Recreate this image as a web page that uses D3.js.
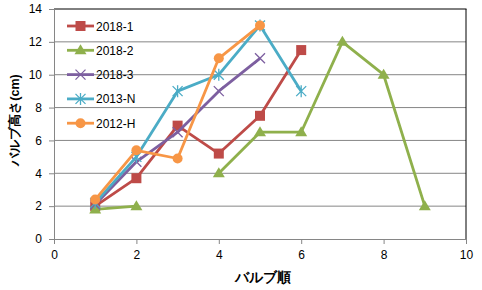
<!DOCTYPE html>
<html><head><meta charset="utf-8">
<script src="https://cdn.jsdelivr.net/npm/d3@7"></script>
<style>body{margin:0;background:#fff}svg{display:block}text{font-family:"Liberation Sans","DejaVu Sans",sans-serif}</style>
</head><body><svg id="c" width="482" height="290"></svg>
<script>
const seriesNames = ["2018-1","2018-2","2018-3","2013-N","2012-H"];
const xValues = [1,2,3,4,5,6,7,8,9];
const s2018_1 = [2.0,3.7,6.9,5.2,7.5,11.5,null,null,null];
const s2018_2 = [1.8,2.0,null,4.0,6.5,6.5,12.0,10.0,2.0];
const s2018_3 = [2.1,4.7,6.5,9.0,11.0,null,null,null,null];
const s2013_N = [2.2,5.0,9.0,10.0,13.0,9.0,null,null,null];
const s2012_H = [2.4,5.4,4.9,11.0,13.0,null,null,null,null];
const xTicks = [0,2,4,6,8,10];
const yTicks = [0,2,4,6,8,10,12,14];
const colors = ["#BE4B48","#8FB04C","#7D5FA0","#4BACC6","#F79646"];
const markers = ["square","triangle","x","star","circle"];
const allSeries = [s2018_1,s2018_2,s2018_3,s2013_N,s2012_H];

const svg = d3.select("#c");
const L=54, R=466, T=9, B=239;
const x = d3.scaleLinear().domain([0,10]).range([L,R]);
const y = d3.scaleLinear().domain([0,14]).range([B,T]);

svg.append("g").selectAll("line").data(yTicks.filter(d=>d>0&&d<14)).join("line")
  .attr("x1",L).attr("x2",R).attr("y1",d=>y(d)).attr("y2",d=>y(d))
  .attr("stroke","#868686").attr("stroke-width",1);
svg.append("line").attr("x1",L).attr("x2",R+0.5).attr("y1",T).attr("y2",T).attr("stroke","#000");
svg.append("line").attr("x1",R).attr("x2",R).attr("y1",T).attr("y2",B).attr("stroke","#000");

const xa = svg.append("g").attr("transform",`translate(0,${B})`)
  .call(d3.axisBottom(x).tickValues(xTicks).tickSize(5).tickPadding(6));
const ya = svg.append("g").attr("transform",`translate(${L},0)`)
  .call(d3.axisLeft(y).tickValues(yTicks).tickSize(5).tickPadding(4));
[xa,ya].forEach(a=>{
  a.select(".domain").attr("stroke","#868686");
  a.selectAll(".tick line").attr("stroke","#868686");
  a.selectAll("text").attr("font-size",12).attr("fill","#000");
});
ya.selectAll(".tick text").attr("dx",-3);

function drawMarker(g, type, cx, cy, color){
  if(type==="square") g.append("rect").attr("x",cx-5).attr("y",cy-5).attr("width",10).attr("height",10).attr("fill",color);
  else if(type==="triangle") g.append("path").attr("d",`M${cx},${cy-6}L${cx+6},${cy+4}L${cx-6},${cy+4}Z`).attr("fill",color);
  else if(type==="circle") g.append("circle").attr("cx",cx).attr("cy",cy).attr("r",5).attr("fill",color);
  else if(type==="x") g.append("path").attr("d",`M${cx-5},${cy-5}L${cx+5},${cy+5}M${cx-5},${cy+5}L${cx+5},${cy-5}`).attr("stroke",color).attr("stroke-width",1.3);
  else if(type==="star") g.append("path").attr("d",`M${cx-5},${cy-5}L${cx+5},${cy+5}M${cx-5},${cy+5}L${cx+5},${cy-5}M${cx},${cy-6}L${cx},${cy+6}`).attr("stroke",color).attr("stroke-width",1.3);
}

const line = d3.line().defined(d=>d[1]!=null).x(d=>x(d[0])).y(d=>y(d[1]));
allSeries.forEach((s,i)=>{
  const pts = xValues.map((xv,j)=>[xv,s[j]]);
  const g = svg.append("g");
  g.append("path").datum(pts).attr("d",line).attr("fill","none")
    .attr("stroke",colors[i]).attr("stroke-width",2.8).attr("stroke-linejoin","round");
  pts.filter(p=>p[1]!=null).forEach(p=>drawMarker(g,markers[i],x(p[0]),y(p[1]),colors[i]));
});

const lg = svg.append("g");
seriesNames.forEach((n,i)=>{
  const yy = 26 + i*24.3;
  lg.append("line").attr("x1",67).attr("x2",94).attr("y1",yy).attr("y2",yy).attr("stroke",colors[i]).attr("stroke-width",2.8);
  drawMarker(lg,markers[i],80.5,yy,colors[i]);
  lg.append("text").attr("x",96).attr("y",yy+4.5).attr("font-size",12).text(n);
});

svg.append("text").attr("x",263).attr("y",282).attr("text-anchor","middle")
  .attr("font-size",13.5).attr("font-weight","bold").attr("font-family","'Noto Sans CJK JP',sans-serif").text("バルブ順");
svg.append("text").attr("transform","translate(19,120) rotate(-90)").attr("text-anchor","middle")
  .attr("font-size",12.5).attr("font-weight","bold").attr("font-family","'Noto Sans CJK JP',sans-serif").text("バルブ高さ(cm)");
</script></body></html>
